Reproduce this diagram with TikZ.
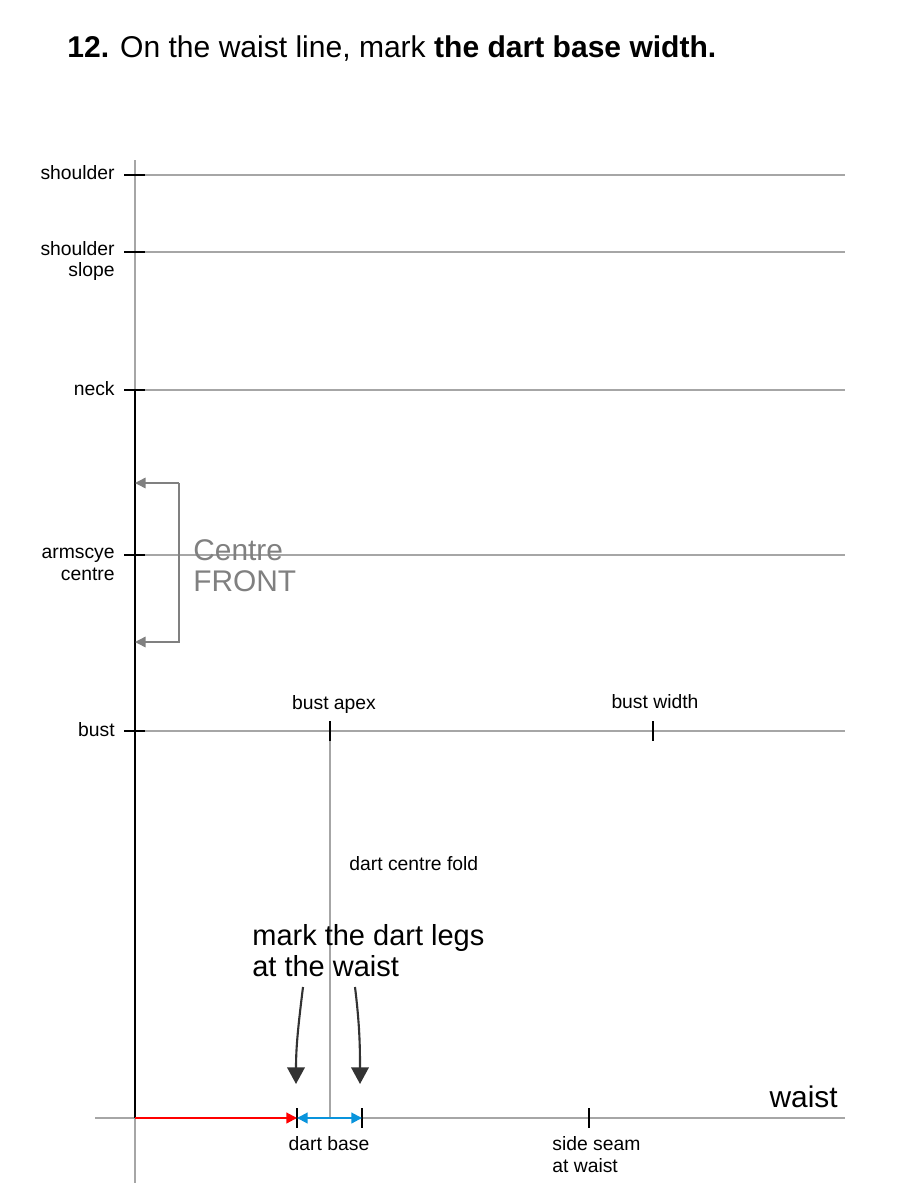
\documentclass[tikz,border=0pt]{standalone}
\usepackage{fontspec}
\setmainfont{Liberation Sans}
\usetikzlibrary{arrows.meta, positioning}

\begin{document}
\begin{tikzpicture}[
  x=0.02cm, y=-0.02cm,
  guide/.style={draw=black!35, line width=1.1pt},
  centre/.style={draw=black, line width=1.4pt},
  tick/.style={draw=black, line width=1.1pt},
  lbl/.style={font=\fontsize{11}{12.5}\selectfont, inner sep=0pt, align=right, anchor=east},
  big/.style={font=\fontsize{16.5}{17.5}\selectfont, inner sep=0pt, align=left},
  bracket/.style={draw=black!50, line width=0.8pt, -{Triangle[length=6pt, width=6pt]}},
  legarr/.style={draw=black!80, line width=1.2pt, -{Triangle[length=9.5pt, width=10pt]}},
  measure/.style={line width=1.2pt, {Triangle[length=6pt, width=6pt]}-{Triangle[length=6pt, width=6pt]}}
]
\useasboundingbox (0,0) rectangle (900,1200);

% Title
\node [anchor=west, inner sep=0pt, font=\fontsize{17.1}{19}\selectfont] (title) at (67,49)
  {\textbf{12.} On the waist line, mark \textbf{the dart base width.}};

% Coordinates
\coordinate (top) at (135,160);
\coordinate (bottom) at (135,1183);
\coordinate (neckc) at (135,390);
\coordinate (waistc) at (135,1118);
\coordinate (apex) at (330,731);
\coordinate (fold) at (330,1118);
\coordinate (legl) at (297,1118);
\coordinate (legr) at (362,1118);
\coordinate (seam) at (589,1118);
\coordinate (bustw) at (653,731);

% Guide lines
\draw [guide] (top) -- (bottom);
\draw [guide] (145,175) -- (845,175);
\draw [guide] (145,252) -- (845,252);
\draw [guide] (145,390) -- (845,390);
\draw [guide] (145,555) -- (845,555);
\draw [guide] (145,731) -- (845,731);
\draw [guide] (95,1118) -- (845,1118);
\draw [guide] (apex) -- (fold);
\draw [centre] (neckc) -- (waistc);

% Ticks
\foreach \y in {175,252,390,555,731}
  \draw [tick] (124,\y) -- (145,\y);
\foreach \c in {apex,bustw}
  \draw [tick] ([yshift=0.2cm]\c) -- ([yshift=-0.2cm]\c);
\foreach \c in {legl,legr,seam}
  \draw [tick] ([yshift=0.2cm]\c) -- ([yshift=-0.2cm]\c);

% Labels
\node [lbl] (shoulder) at (115,173) {shoulder};
\node [lbl] (slope) at (115,261) {shoulder\\slope};
\node [lbl] (neck) at (115,389) {neck};
\node [lbl] (armscye) at (115,564) {armscye\\centre};
\node [lbl] (bust) at (115,730) {bust};
\node [lbl, anchor=center] (apexlbl) at (334,704) {bust apex};
\node [lbl, anchor=center] (bustwlbl) at (655,702) {bust width};
\node [lbl, anchor=west] (foldlbl) at (349,864) {dart centre fold};
\node [lbl, anchor=center] (baselbl) at (329,1144) {dart base};
\node [lbl, anchor=north west, align=left] (seamlbl) at (552,1136) {side seam\\at waist};
\node [big, anchor=east, font=\fontsize{17}{18}\selectfont] (waist) at (838,1097) {waist};

% Centre front
\coordinate (cfa) at (179,483);
\coordinate (cfb) at (179,642);
\draw [bracket] (cfa) -- (cfb) -- (135,642);
\draw [bracket] (cfa) -- (135,483);
\node [big, anchor=west, text=black!50, font=\fontsize{17}{17.5}\selectfont] (cf) at (193,566) {Centre\\FRONT};

% Dart legs
\node [big, anchor=west, font=\fontsize{16.5}{17.6}\selectfont] (marklbl) at (252,951) {mark the dart legs\\at the waist};
\coordinate (ma) at (303,987);
\coordinate (mb) at (355,987);
\draw [legarr] (ma) to[out=-97, in=90] (296,1084);
\draw [legarr] (mb) to[out=-83, in=90] (360,1084);

% Measurements
\draw [measure, {}-{Triangle[length=6pt, width=6pt]}, red] (waistc) -- (legl);
\draw [measure, cyan!80!blue] (legl) -- (legr);

\end{tikzpicture}
\end{document}
